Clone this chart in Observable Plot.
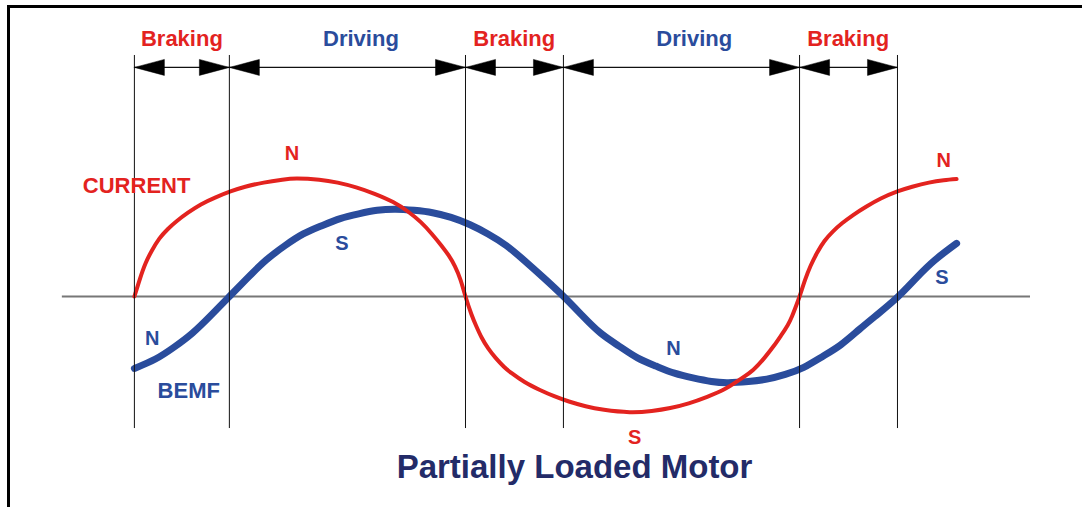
<!DOCTYPE html>
<html>
<head>
<meta charset="utf-8">
<script src="https://cdn.jsdelivr.net/npm/d3@7"></script>
<script src="https://cdn.jsdelivr.net/npm/@observablehq/plot@0.6"></script>
<style>
  html, body { margin: 0; padding: 0; background: #fff; overflow: hidden; }
  #wrap { position: relative; width: 1082px; height: 507px; }
  #frame { position: absolute; left: 7px; top: 5px; width: 3000px; height: 3000px;
           border-left: 3px solid #000; border-top: 3px solid #000; pointer-events: none; }
  svg { display: block; }
</style>
</head>
<body>
<div id="wrap"><div id="frame"></div></div>
<script>
// ---- Data (x in electrical degrees, y in units of current amplitude) ----
const currentDeg = [0, 3, 6, 9.5, 13.5, 18, 23, 29, 36, 44, 52, 60, 70, 80, 88, 100, 110, 120, 130, 140, 148, 155, 161, 166, 170, 173.5, 176.5, 179.2,
  182.4, 185, 188, 191.5, 195.5, 200, 204.2, 211.2, 219.2, 227.2, 235.2, 244.2, 254.2, 268, 280, 290, 300, 310, 320, 328, 335, 341, 346, 350, 353.5, 356, 358, 360,
  363, 366, 369.5, 373.5, 378, 383, 389, 396, 404, 413, 421, 430, 438, 445];
const currentVal = [0, 0.15, 0.28, 0.39, 0.49, 0.57, 0.64, 0.71, 0.78, 0.84, 0.89, 0.93, 0.965, 0.99, 1.0, 0.99, 0.965, 0.925, 0.87, 0.80, 0.72, 0.63, 0.53, 0.435, 0.35, 0.255, 0.14, 0,
  -0.15, -0.25, -0.35, -0.44, -0.52, -0.595, -0.65, -0.725, -0.79, -0.845, -0.89, -0.93, -0.96, -0.98, -0.97, -0.945, -0.905, -0.85, -0.78, -0.70, -0.62, -0.52, -0.42, -0.33, -0.245, -0.165, -0.085, 0,
  0.14, 0.26, 0.37, 0.47, 0.55, 0.62, 0.69, 0.76, 0.83, 0.89, 0.93, 0.965, 0.985, 0.995];

const bemfDeg = [0, 11.4, 21.4, 31.4, 41.4, 51.4, 61.4, 71.4, 81.4, 91.4, 101.4, 111.4, 121.4, 131.4, 141.4, 151.4, 161.4, 171.4, 181.4, 191.4, 201.4, 211.4, 221.4, 232.3,
  242.3, 252.3, 262.3, 272.3, 282.3, 292.3, 302.3, 312.3, 321.3, 332.3, 342.3, 352.3, 362.3, 372.3, 382.3, 392.3, 402.3, 413.4, 423.4, 433.4, 445];
const bemfVal = [-0.61, -0.53, -0.43, -0.31, -0.16, 0, 0.16, 0.31, 0.43, 0.53, 0.60, 0.66, 0.70, 0.73, 0.74, 0.73, 0.71, 0.67, 0.61, 0.53, 0.43, 0.30, 0.16, 0,
  -0.16, -0.31, -0.42, -0.52, -0.59, -0.65, -0.69, -0.72, -0.73, -0.72, -0.70, -0.66, -0.60, -0.51, -0.41, -0.28, -0.15, 0, 0.16, 0.31, 0.45];

// phase boundaries (degrees) and the interval names
const boundaries = [0, 51.4, 179.2, 232.2, 360, 413];
const phaseNames = ["Braking", "Driving", "Braking", "Driving", "Braking"];
const phaseLabelX = [25.7, 122.6, 205.6, 303, 386.3];

// annotation labels
const labelText = ["CURRENT", "BEMF", "N", "N", "S", "S", "N", "N", "S"];
const labelX    = [1.2, 29.4, 85.3, 438, 112.3, 437, 9.7, 291.8, 270.7];
const labelY    = [0.873, -0.864, 1.153, 1.096, 0.398, 0.102, -0.415, -0.5, -1.246];
const labelKind = ["current", "bemf", "current", "current", "bemf", "bemf", "bemf", "bemf", "current"];

const titleText = "Partially Loaded Motor";

// ---- Layout constants ----
const W = 1082, H = 507;
const xDomain = [-40, 485];
const yDomain = [-1.788, 2.508];
const mL = 60, mR = 52;
const pxPerX = (W - mL - mR) / (xDomain[1] - xDomain[0]);
const pxPerY = H / (yDomain[1] - yDomain[0]);
const arrowY = 1.941;
const headLen = 30 / pxPerX, headHalf = 8 / pxPerY;
const ruleTop = 2.042, ruleBottom = -1.119;

const RED = "#e3231f", BLUE = "#2a4c9c", NAVY = "#232b68";

const current = currentDeg.map((d, i) => ({x: d, y: currentVal[i]}));
const bemf = bemfDeg.map((d, i) => ({x: d, y: bemfVal[i]}));

// arrowheads: per interval, left-pointing at start, right-pointing at end
const heads = [];
for (let i = 0; i < boundaries.length - 1; i++) {
  const a = boundaries[i], b = boundaries[i + 1];
  const idL = "L" + i, idR = "R" + i;
  heads.push({id: idL, x: a, y: arrowY}, {id: idL, x: a + headLen, y: arrowY + headHalf},
             {id: idL, x: a + headLen, y: arrowY - headHalf}, {id: idL, x: a, y: arrowY});
  heads.push({id: idR, x: b, y: arrowY}, {id: idR, x: b - headLen, y: arrowY + headHalf},
             {id: idR, x: b - headLen, y: arrowY - headHalf}, {id: idR, x: b, y: arrowY});
}

const phases = phaseNames.map((n, i) => ({name: n, x: phaseLabelX[i]}));
const labels = labelText.map((t, i) => ({t, x: labelX[i], y: labelY[i], k: labelKind[i]}));

const font = "'Liberation Sans', Arial, sans-serif";

const chart = Plot.plot({
  width: W, height: H,
  marginLeft: mL, marginRight: mR, marginTop: 0, marginBottom: 0,
  x: {domain: xDomain, axis: null},
  y: {domain: yDomain, axis: null},
  style: {background: "transparent", fontFamily: font, overflow: "visible"},
  marks: [
    Plot.ruleY([0], {x1: -39, x2: 485, stroke: "#777", strokeWidth: 2}),
    Plot.line(bemf, {x: "x", y: "y", stroke: BLUE, strokeWidth: 7, curve: "natural", strokeLinecap: "round"}),
    Plot.line(current, {x: "x", y: "y", stroke: RED, strokeWidth: 4, curve: "natural", strokeLinecap: "round"}),
    Plot.ruleX(boundaries, {y1: ruleBottom, y2: ruleTop, stroke: "#111", strokeWidth: 1}),
    Plot.ruleY([arrowY], {x1: boundaries[0], x2: boundaries[boundaries.length - 1], stroke: "#111", strokeWidth: 1.2}),
    Plot.line(heads, {x: "x", y: "y", z: "id", fill: "#000", stroke: "#000", strokeWidth: 0.5}),
    Plot.text(phases, {x: "x", y: 2.119, text: "name", fill: d => d.name === "Braking" ? RED : BLUE,
      fontSize: 22, fontWeight: "bold", lineAnchor: "bottom", textAnchor: "middle"}),
    Plot.text(labels, {x: "x", y: "y", text: "t", fill: d => d.k === "current" ? RED : BLUE,
      fontSize: d => d.t.length > 1 ? 22 : 20, fontWeight: "bold", lineAnchor: "bottom", textAnchor: "middle"}),
    Plot.text([titleText], {x: 238.2, y: -1.534, text: d => d, fill: NAVY,
      fontSize: 33, fontWeight: "bold", lineAnchor: "bottom", textAnchor: "middle"})
  ]
});
document.getElementById("wrap").prepend(chart);
</script>
</body>
</html>
